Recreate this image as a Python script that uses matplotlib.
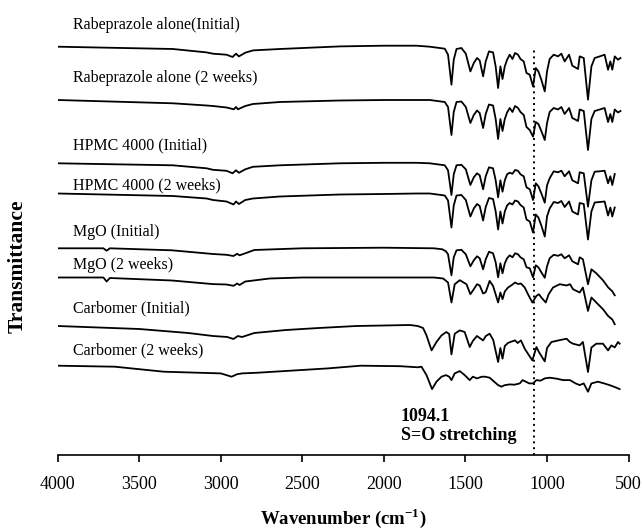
import matplotlib
matplotlib.use("Agg")
import matplotlib.pyplot as plt

plt.rcParams['font.family'] = ['Liberation Serif', 'DejaVu Serif']
plt.rcParams['mathtext.fontset'] = 'custom'
plt.rcParams['mathtext.rm'] = 'Liberation Serif'
plt.rcParams['mathtext.bf'] = 'Liberation Serif:bold'

# ---- data: (wavenumber cm-1, relative transmittance) per spectrum ----
rab_initial = [(4000, 0), (3294, -2.3), (3087, -5.7), (3048, -7), (2965, -8), (2928, -10.3),
               (2907, -7), (2889, -9.7), (2850, -6), (2803, -3.7), (2638, -2.3), (2270, 0.3),
               (2000, 1), (1800, 1), (1719, 0), (1627, -2), (1607, -8), (1586, -38), (1572, -13),
               (1555, -2.3), (1525, -1.3), (1498, -7), (1470, -24.7), (1449, -16.3), (1429, -11.3),
               (1413, -13.7), (1392, -29.7), (1376, -14.7), (1356, -4.7), (1331, -5.7), (1315, -19.7),
               (1300, -41.3), (1286, -19.7), (1273, -32.3), (1259, -19.7), (1245, -13), (1229, -8),
               (1212, -12.3), (1196, -6.3), (1178, -8), (1163, -12.3), (1143, -14.7), (1126, -26.3),
               (1106, -28), (1086, -39.7), (1069, -21.3), (1053, -24.7), (1035, -33), (1014, -44.7),
               (1000, -24.7), (984, -12.3), (959, -8), (933, -9.7), (912, -7), (892, -14.7), (865, -8),
               (845, -19), (810, -22.3), (800, -9.7), (775, -11.3), (749, -53), (728, -19.7),
               (708, -11.3), (677, -9.7), (647, -8), (626, -23), (612, -14.7), (600, -23), (585, -9.7),
               (565, -13), (550, -11.3)]

rab_2weeks = [(4000, 0), (3294, -3.3), (3087, -5.5), (3048, -6), (2965, -7.5), (2920, -9.3),
              (2907, -7), (2895, -9.3), (2850, -6), (2803, -4), (2638, -2), (2270, -0.5),
              (2000, 0), (1800, 0), (1719, 0), (1627, -2), (1607, -7), (1586, -35), (1572, -12),
              (1555, -2), (1525, -1.5), (1498, -7), (1470, -23), (1449, -15), (1429, -10.5),
              (1413, -13), (1392, -28), (1376, -14), (1356, -4.5), (1331, -5.5), (1315, -19),
              (1300, -39), (1286, -19), (1273, -31), (1259, -19), (1245, -12.5), (1229, -8),
              (1212, -12), (1196, -6), (1178, -8), (1163, -12), (1143, -15), (1126, -27),
              (1106, -30), (1086, -36.7), (1069, -22), (1053, -24), (1035, -31), (1014, -40),
              (1000, -23), (984, -12), (959, -8), (933, -9.5), (912, -7), (892, -14), (865, -8),
              (845, -18), (810, -21), (800, -9.5), (775, -11), (749, -50), (728, -19),
              (708, -11), (677, -9.5), (647, -8), (626, -22), (612, -14), (600, -22), (585, -9.5),
              (565, -12.5), (550, -11)]

hpmc_initial = [(4000, 0), (3294, -2), (3087, -5), (3048, -6.5), (2965, -7.5), (2928, -10),
                (2907, -7), (2889, -9.5), (2850, -6), (2803, -3.5), (2638, -2), (2270, 0),
                (2000, 0.5), (1800, 0.5), (1719, 0), (1627, -2), (1607, -7), (1586, -31.7),
                (1572, -11), (1555, -2), (1525, -1.5), (1498, -6), (1470, -21.7), (1449, -14),
                (1429, -10), (1413, -12), (1392, -26), (1376, -13), (1356, -4), (1331, -5),
                (1315, -17), (1300, -34), (1286, -17), (1273, -28.4), (1259, -17), (1245, -11),
                (1229, -9.4), (1212, -10.5), (1196, -6.7), (1178, -7.5), (1163, -11), (1143, -13),
                (1126, -24), (1106, -26), (1086, -36.7), (1069, -20), (1053, -23), (1035, -30),
                (1014, -39.4), (1000, -22), (984, -15), (959, -8), (933, -9), (912, -7.4),
                (892, -13), (865, -8), (845, -17), (810, -20), (800, -9), (775, -10), (749, -43.4),
                (728, -17), (708, -8.4), (677, -8), (647, -7.4), (626, -20), (612, -13),
                (600, -21.7), (585, -10.7)]

hpmc_2weeks = [(4000, 0), (3294, -2.5), (3087, -5), (3048, -6.5), (2965, -8), (2922, -11),
               (2907, -8), (2889, -10.5), (2850, -6.5), (2803, -5), (2638, -3), (2270, -1),
               (2000, -0.5), (1800, 0), (1719, 0), (1627, -2), (1607, -7), (1586, -34),
               (1572, -12), (1555, -2), (1525, -1.5), (1498, -6.5), (1470, -23), (1449, -15),
               (1429, -10.5), (1413, -12.5), (1392, -27), (1376, -13.5), (1356, -4.5), (1331, -5.5),
               (1315, -18), (1300, -36), (1286, -18), (1273, -30), (1259, -18), (1245, -12),
               (1229, -9.5), (1212, -11), (1196, -7), (1178, -8), (1163, -11.5), (1143, -14),
               (1126, -26), (1106, -28), (1086, -39), (1069, -21), (1053, -24), (1035, -32),
               (1014, -43), (1000, -23), (984, -15), (959, -8.5), (933, -9.5), (912, -7.5),
               (892, -13.5), (865, -8), (845, -18), (810, -21), (800, -9.5), (775, -10.5),
               (749, -46), (728, -18), (708, -9), (677, -8.5), (647, -8), (626, -22), (612, -14),
               (600, -23), (585, -14)]

mgo_initial = [(4000, 0), (3720, 0), (3700, -2.4), (3680, 0), (3300, -2), (3048, -5.7),
               (2965, -6.5), (2922, -7.7), (2900, -5.5), (2885, -7), (2850, -5), (2795, -1.7),
               (2500, 0), (2000, 0.6), (1694, 0), (1642, -1), (1620, -3), (1607, -6), (1586, -27),
               (1572, -9), (1555, -2), (1525, -1.5), (1498, -6), (1470, -18), (1449, -12),
               (1429, -8), (1413, -10), (1392, -21), (1376, -11), (1356, -3.5), (1331, -5),
               (1315, -14), (1300, -29), (1286, -15), (1273, -25), (1259, -15), (1245, -10),
               (1229, -7), (1212, -9), (1196, -5), (1178, -6), (1163, -9), (1143, -11),
               (1126, -19), (1106, -20), (1086, -29), (1069, -17), (1053, -19), (1035, -24),
               (1014, -29.5), (1000, -18), (984, -10), (959, -6.5), (933, -7.5), (912, -6),
               (892, -10), (865, -7), (845, -13), (810, -16), (800, -9), (780, -11), (749, -36),
               (728, -21), (698, -25), (657, -32), (626, -39), (600, -43), (585, -47)]

mgo_2weeks = [(4000, 0), (3720, 0), (3700, -4), (3680, -0.5), (3300, -3), (3048, -6.6),
              (2965, -7), (2922, -8.3), (2900, -6), (2885, -7.5), (2850, -4), (2700, -1),
              (2500, 0), (2000, 0), (1694, 0), (1637, -1), (1607, -5), (1586, -25), (1566, -6.7),
              (1535, -2.7), (1494, -6.7), (1470, -16.7), (1449, -11.7), (1429, -6.7), (1413, -8),
              (1392, -16), (1376, -14.7), (1352, -3.4), (1331, -8.4), (1300, -25), (1286, -15),
              (1273, -21.7), (1259, -14), (1239, -10), (1220, -8), (1196, -5), (1178, -6.5),
              (1160, -6), (1137, -10), (1117, -16.7), (1090, -25), (1065, -18.4), (1050, -16.7),
              (1035, -20), (1008, -25), (990, -16.7), (963, -10), (922, -6.7), (880, -8),
              (859, -6.7), (841, -11.7), (800, -15), (780, -10), (749, -33.4), (728, -20),
              (698, -25), (657, -31.7), (626, -38.4), (600, -42), (585, -46.7)]

carbomer_initial = [(4000, 0), (3500, -3), (3200, -7), (3048, -10), (2960, -11), (2923, -13),
                    (2895, -10), (2870, -11), (2795, -7), (2600, -4), (2400, -2), (2169, 0),
                    (2000, 0.5), (1841, 1), (1793, 0), (1760, -2), (1739, -9.4), (1708, -24.4),
                    (1678, -16), (1647, -9.4), (1617, -6), (1600, -8), (1586, -28.4), (1566, -7.7),
                    (1535, -4.4), (1505, -6), (1474, -21), (1455, -15), (1430, -10), (1392, -14.4),
                    (1375, -10), (1352, -7.7), (1330, -14), (1300, -36), (1286, -22), (1273, -32.7),
                    (1259, -20), (1240, -17), (1220, -15.7), (1196, -14.4), (1180, -17),
                    (1160, -14.4), (1137, -22.7), (1117, -27.7), (1090, -34.4), (1065, -21),
                    (1050, -26), (1014, -35.4), (1000, -22), (973, -16), (930, -14.4),
                    (880, -12.7), (860, -16), (841, -17.7), (800, -19.4), (780, -16), (749, -46),
                    (728, -21.5), (698, -17.7), (657, -17.7), (626, -24.4), (606, -19.4),
                    (585, -21.4), (565, -16), (555, -17.7)]

carbomer_2weeks = [(4000, 0), (3650, -1), (3350, -6), (3000, -7.7), (2934, -11), (2900, -8.5),
                   (2870, -7.7), (2773, -7), (2344, -2.7), (2143, 0), (1900, -0.5), (1792, -1.6),
                   (1770, -1), (1739, -9.4), (1705, -23.4), (1678, -16), (1647, -11), (1620, -9.4),
                   (1600, -11), (1586, -14.4), (1566, -7.7), (1535, -5.4), (1505, -9.4),
                   (1474, -14.4), (1455, -11), (1430, -12.7), (1400, -11), (1380, -11),
                   (1352, -12), (1300, -19.4), (1280, -21), (1260, -19.5), (1229, -18.7),
                   (1200, -19), (1167, -17.7), (1150, -14.4), (1130, -16), (1110, -17.7),
                   (1086, -17.7), (1065, -14.4), (1040, -15), (1014, -12.7), (984, -12),
                   (940, -13), (902, -14.4), (860, -14.4), (825, -17.7), (800, -19.4),
                   (775, -17.7), (749, -26), (728, -17.7), (688, -16), (650, -17.7), (606, -20),
                   (575, -22), (555, -23.4)]

spectra = [rab_initial, rab_2weeks, hpmc_initial, hpmc_2weeks,
           mgo_initial, mgo_2weeks, carbomer_initial, carbomer_2weeks]
labels = ["Rabeprazole alone(Initial)", "Rabeprazole alone (2 weeks)",
          "HPMC 4000 (Initial)", "HPMC 4000 (2 weeks)",
          "MgO (Initial)", "MgO (2 weeks)",
          "Carbomer (Initial)", "Carbomer (2 weeks)"]

x_ticks = [4000, 3500, 3000, 2500, 2000, 1500, 1000, 500]
so_band_wn = 1080
annotation = "1094.1\nS=O stretching"

# ---- layout (vertical stacking offsets, label heights) ----
offsets = [408.3, 355, 291.7, 261.5, 206.7, 177.5, 129, 89.3]
label_y = [430, 377, 310, 270, 223, 190, 147, 105]
label_x = 3906

fig = plt.figure(figsize=(6.43, 5.30), dpi=100)
ax = fig.add_axes([57.7 / 643, 75 / 530, (628.6 - 57.7) / 643, 455 / 530])

for spec, off, lab, ly in zip(spectra, offsets, labels, label_y):
    wn = [p[0] for p in spec]
    val = [p[1] + off for p in spec]
    ax.plot(wn, val, color='black', lw=1.3, solid_joinstyle='round')
    ax.text(label_x, ly, lab, fontsize=11.5, va='center', ha='left')

ax.plot([so_band_wn, so_band_wn], [0, 408], color='black', lw=1.4, ls=(0, (1, 2)))
ax.text(1898, 29, annotation, fontsize=13, fontweight='bold', ha='left', va='center',
        linespacing=1.1)

ax.set_xlim(4000, 500)
ax.set_ylim(0, 455)
ax.set_xticks(x_ticks)
ax.tick_params(axis='x', direction='out', length=5, width=1.2, labelsize=13, pad=10)
ax.set_yticks([])
for s in ('left', 'right', 'top'):
    ax.spines[s].set_visible(False)
ax.spines['bottom'].set_linewidth(1.2)
ax.spines['bottom'].set_bounds(4000, 500)

fig.text(343 / 643, 1 - 518 / 530, r'Wavenumber (cm$^{\mathbf{-1}}$)', fontsize=13.5,
         fontweight='bold', ha='center', va='center')
fig.text(18 / 643, 1 - 266 / 530, 'Transmittance', fontsize=15.5, fontweight='bold',
         rotation=90, ha='center', va='center')

fig.savefig('out.png', dpi=100)
